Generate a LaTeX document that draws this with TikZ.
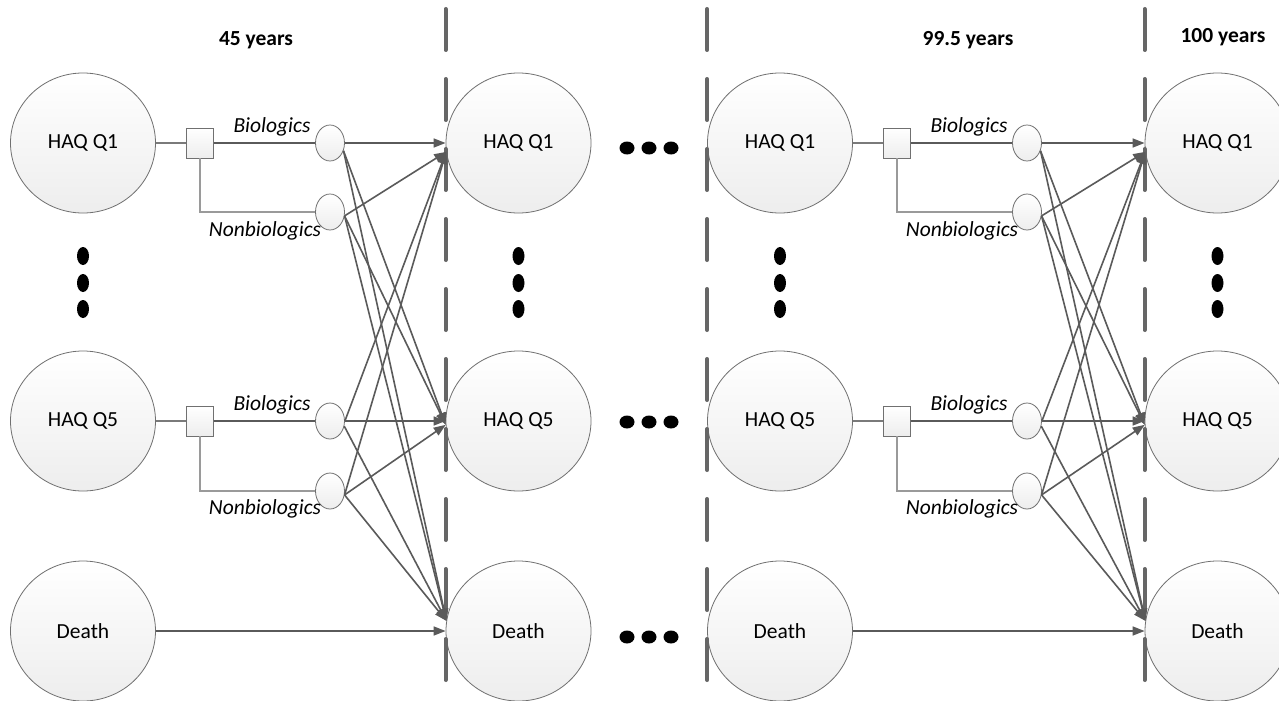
\documentclass[tikz,border=0pt]{standalone}
\usepackage{fontspec}
\setmainfont{Carlito}
\usetikzlibrary{shapes.geometric,arrows.meta}
\definecolor{linegray}{HTML}{5A5A5A}
\definecolor{dashgray}{HTML}{666666}
\definecolor{edgegray}{HTML}{707070}
\definecolor{feedgray}{HTML}{7A7A7A}
\definecolor{elbowgray}{HTML}{9A9A9A}
\tikzset{
  shaded/.style={draw=edgegray, line width=0.8pt, top color=white, bottom color=black!7},
  bigc/.style={shaded, ellipse, minimum width=145pt, minimum height=140pt, inner sep=0pt,
    font=\fontsize{21.5}{25}\selectfont},
  smallc/.style={shaded, ellipse, minimum width=29pt, minimum height=36pt, inner sep=0pt},
  sqbox/.style={shaded, rectangle, minimum width=27pt, minimum height=30pt, inner sep=0pt},
  lbl/.style={font=\fontsize{21.5}{25}\selectfont\itshape, inner sep=0pt},
  hdr/.style={font=\fontsize{21.5}{25}\selectfont\bfseries, inner sep=0pt},
  arr/.style={draw=linegray, line width=1.6pt, -{Triangle[length=12pt,width=9pt]}},
  feed/.style={draw=feedgray, line width=1.8pt},
  branch/.style={draw=linegray, line width=1.8pt},
  elbow/.style={draw=elbowgray, line width=1.4pt},
  vdot/.style={ellipse, fill=black, minimum width=12pt, minimum height=18pt, inner sep=0pt},
  hdot/.style={ellipse, fill=black, minimum width=15pt, minimum height=13pt, inner sep=0pt},
  timeline/.style={draw=dashgray, line width=4pt, line cap=round, dash pattern=on 41pt off 29pt},
}
\begin{document}
\begin{tikzpicture}[x=1pt,y=-1pt]
\clip (0,0) rectangle (1279,701);
\fill[white] (0,0) rectangle (1279,701);

% headers
\node[hdr] (h1) at (256,40) {45 years};
\node[hdr] (h2) at (968,40) {99.5 years};
\node[hdr] (h3) at (1223,37) {100 years};

\foreach \c/\ox/\tx in {a/0/518.5, b/697/1217.5} {
  % source column
  \node[bigc] (Q1\c) at (83+\ox,143) {HAQ Q1};
  \node[bigc] (Q5\c) at (83+\ox,421) {HAQ Q5};
  \node[bigc] (D\c)  at (83+\ox,631) {Death};
  % target column
  \node[bigc] (T1\c) at (\tx,143) {HAQ Q1};
  \node[bigc] (T5\c) at (\tx,421) {HAQ Q5};
  \node[bigc] (TD\c) at (\tx,631) {Death};
  % decision squares and chance circles
  \node[sqbox] (S1\c) at (200+\ox,143) {};
  \node[sqbox] (S5\c) at (200+\ox,421) {};
  \node[smallc] (B1\c) at (330+\ox,143) {};
  \node[smallc] (N1\c) at (330+\ox,212) {};
  \node[smallc] (B5\c) at (330+\ox,421) {};
  \node[smallc] (N5\c) at (330+\ox,491) {};
  % labels
  \node[lbl] (lb1\c) at (272+\ox,127) {Biologics};
  \node[lbl] (ln1\c) at (265+\ox,231) {Nonbiologics};
  \node[lbl] (lb5\c) at (272+\ox,405) {Biologics};
  \node[lbl] (ln5\c) at (265+\ox,509) {Nonbiologics};
  % vertical ellipsis dots
  \foreach \xx/\k in {83+\ox/s, \tx/t} {
    \node[vdot] (vd1\c\k) at (\xx,256) {};
    \node[vdot] (vd2\c\k) at (\xx,283) {};
    \node[vdot] (vd3\c\k) at (\xx,309) {};
  }
}

% horizontal ellipsis dots
\foreach \yy/\r in {148/1, 422/5, 637/d} {
  \node[hdot] (hd1\r) at (627,\yy) {};
  \node[hdot] (hd2\r) at (649,\yy) {};
  \node[hdot] (hd3\r) at (671,\yy) {};
}

% dashed time lines
\draw[timeline] (T1a.west |- 0,9) -- (T1a.west |- 0,680);
\draw[timeline] (Q1b.west |- 0,9) -- (Q1b.west |- 0,680);
\draw[timeline] (T1b.west |- 0,9) -- (T1b.west |- 0,680);

\foreach \c in {a,b} {
  % feeds
  \draw[feed] (Q1\c.east) -- (S1\c.west);
  \draw[feed] (Q5\c.east) -- (S5\c.west);
  \draw[branch] (S1\c.east) -- (B1\c.west);
  \draw[branch] (S5\c.east) -- (B5\c.west);
  \draw[elbow] (S1\c.south) |- (N1\c.west);
  \draw[elbow] (S5\c.south) |- (N5\c.west);
  % transitions
  \draw[arr] (B1\c.east) -- (T1\c.west);
  \draw[arr] (B1\c.-30) -- (T5\c.183);
  \draw[arr] (B1\c.-30) -- (TD\c.172);
  \draw[arr] (N1\c.-15) -- (T1\c.187);
  \draw[arr] (N1\c.-15) -- (T5\c.183);
  \draw[arr] (N1\c.-15) -- (TD\c.172);
  \draw[arr] (B5\c.east) -- (T1\c.187);
  \draw[arr] (B5\c.east) -- (T5\c.west);
  \draw[arr] (B5\c.-20) -- (TD\c.172);
  \draw[arr] (N5\c.-15) -- (T1\c.187);
  \draw[arr] (N5\c.-15) -- (T5\c.183);
  \draw[arr] (N5\c.-15) -- (TD\c.172);
  \draw[arr] (D\c.east) -- (TD\c.west);
}
\end{tikzpicture}
\end{document}
